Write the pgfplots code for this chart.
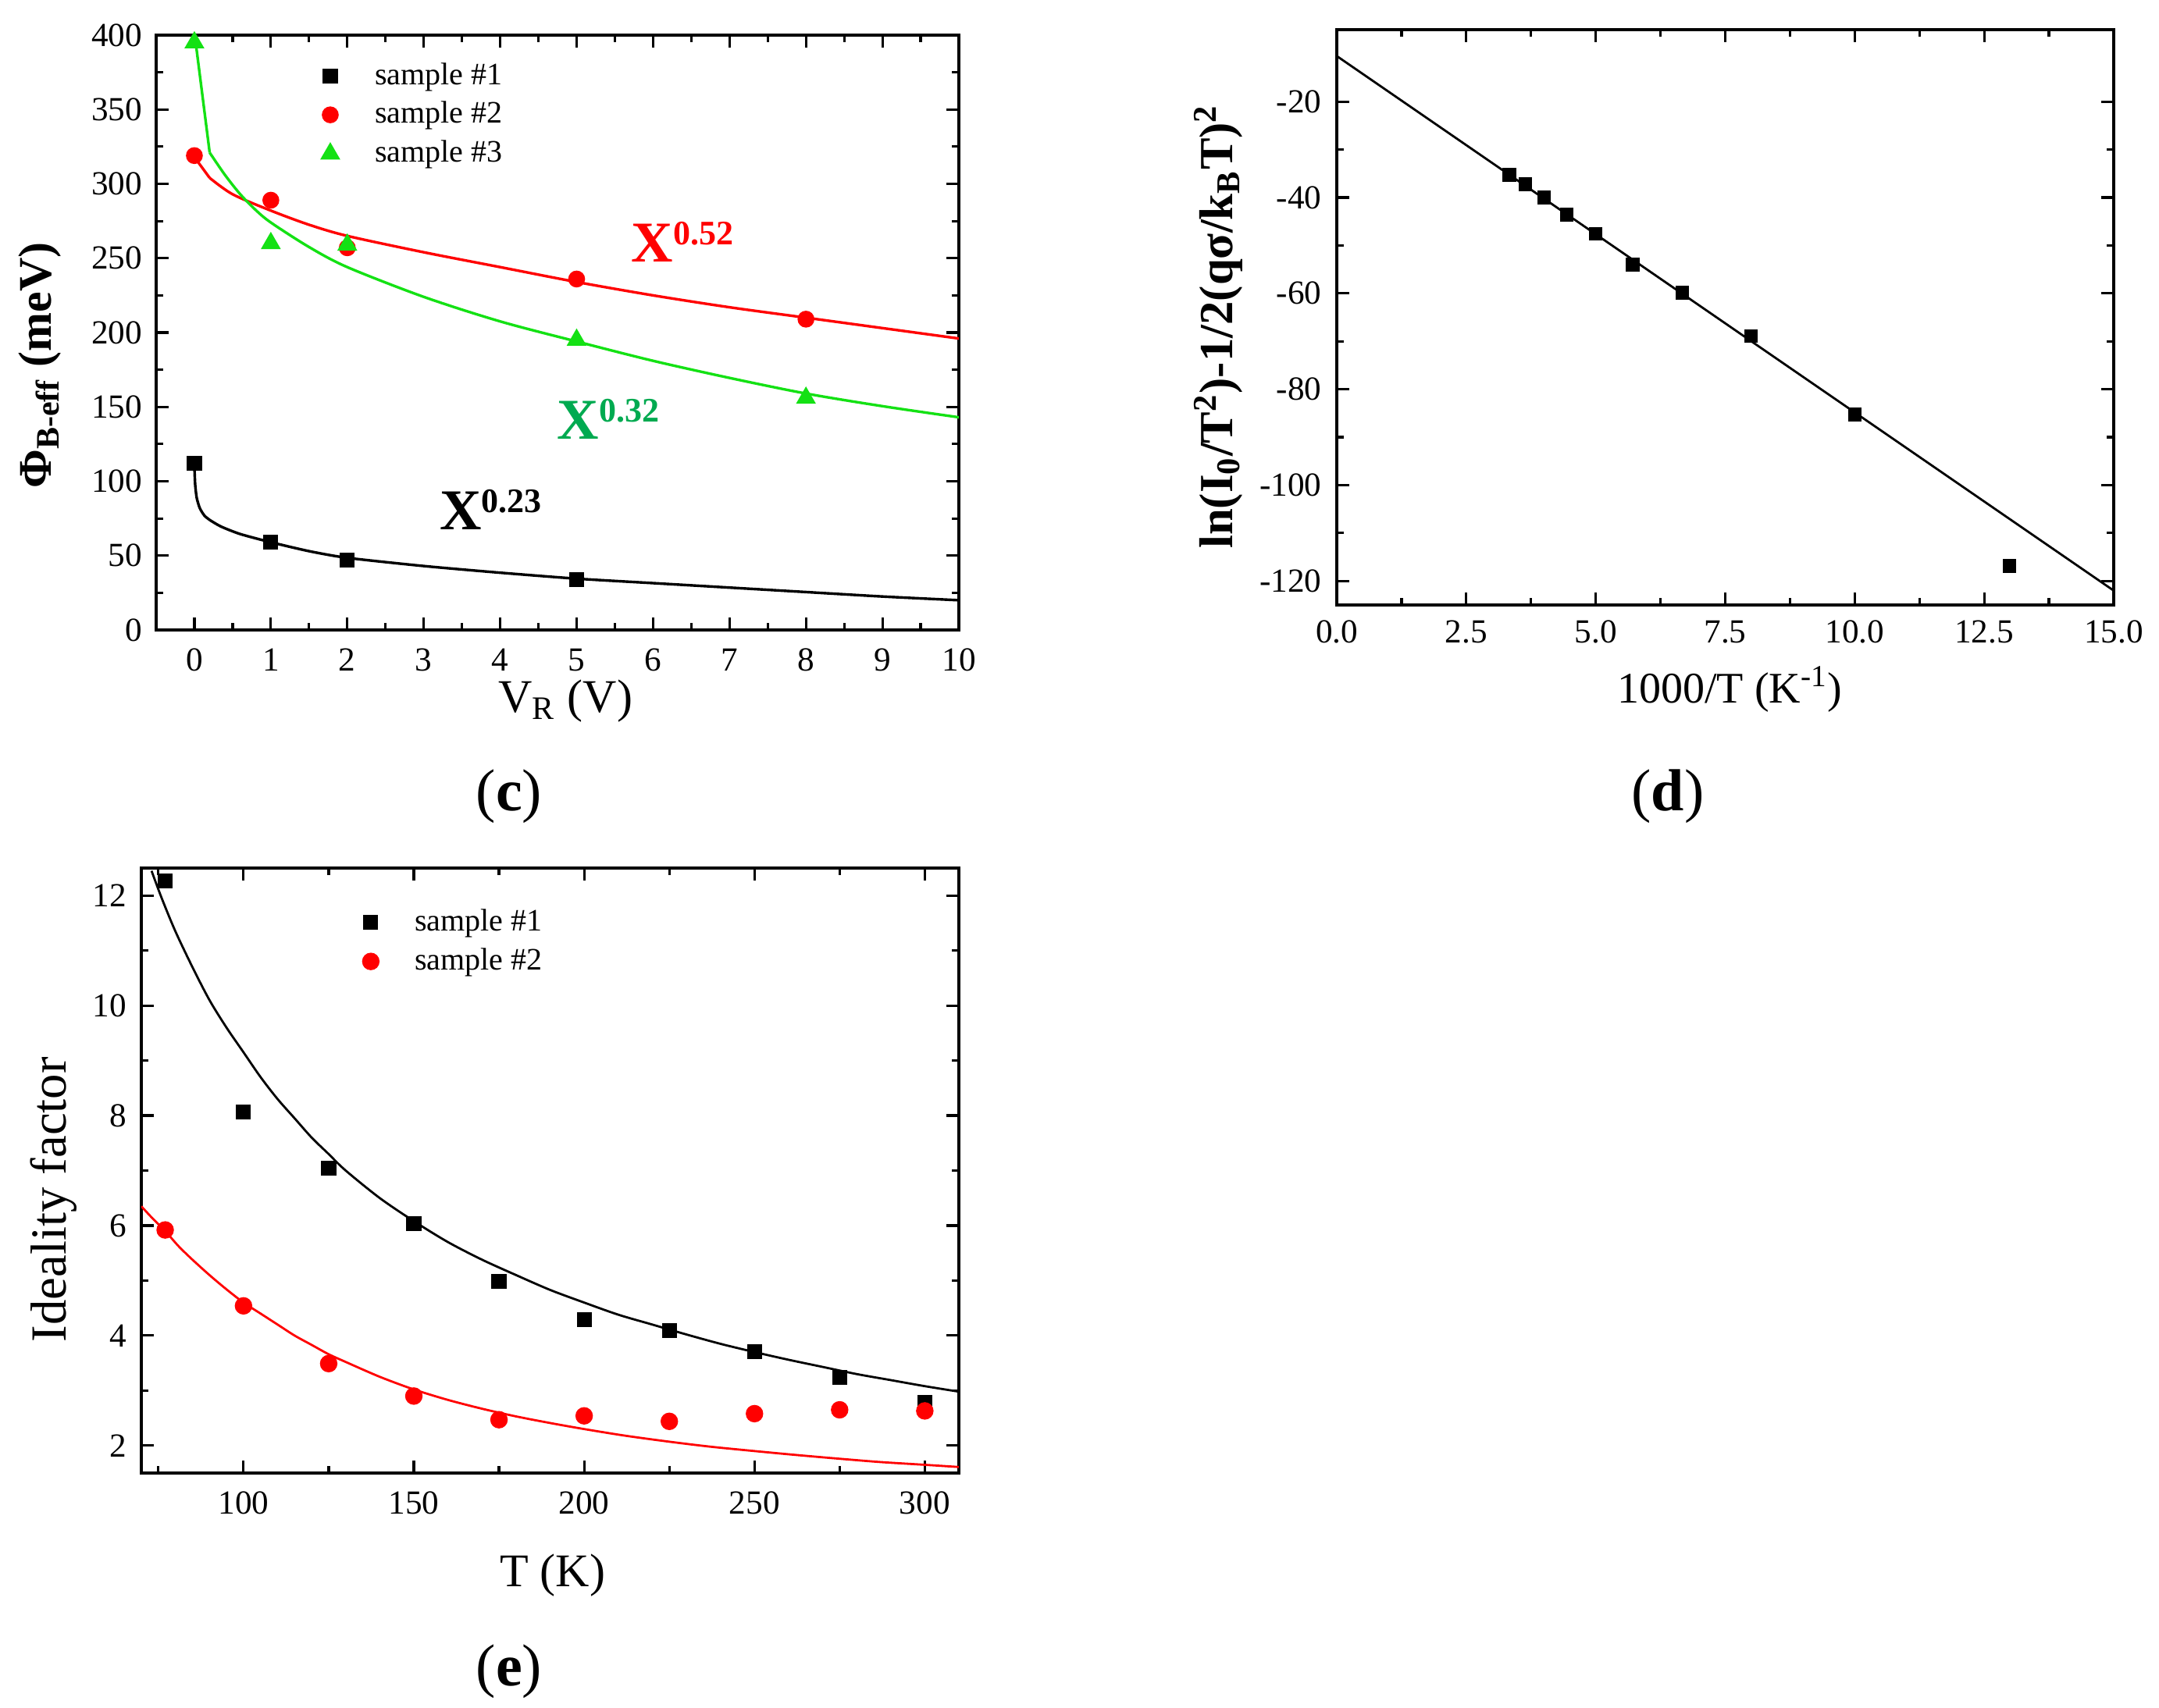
\documentclass[border=0pt]{standalone}
\usepackage{pgfplots}
\pgfplotsset{compat=1.18}
\usepackage{fontspec}
\setmainfont{Liberation Serif}
\definecolor{mygreen}{RGB}{20,225,20}
\definecolor{txtgreen}{RGB}{0,170,80}
\newcommand{\xpow}[1]{X\raisebox{5.5pt}{\fontsize{11}{11}\selectfont #1}}
\pgfplotsset{
  myax/.style={
    scale only axis, anchor=north west,
    tick align=inside,
    axis line style={line width=0.85pt},
    every tick/.style={black, line width=0.8pt},
    major tick length=4pt, minor tick length=2.3pt,
    tick label style={font=\fontsize{10.8}{12}\selectfont},
    /pgf/number format/assume math mode=true,
    legend style={draw=none, fill=none, font=\fontsize{10}{12}\selectfont, row sep=0pt, column sep=9.5pt, inner sep=0pt},
    legend cell align=left,
  },
}
\begin{document}
\begin{tikzpicture}
\useasboundingbox (0,0) rectangle (691.25pt,-546.75pt);
% ---------------- (c)
\begin{axis}[myax, at={(50pt,-11.25pt)}, width=257pt, height=190.5pt,
  xmin=-0.5, xmax=10, ymin=0, ymax=400,
  xtick={0,1,...,10}, minor x tick num=1,
  ytick={0,50,...,400}, minor y tick num=1,
  xticklabel style={yshift=-2.5pt}, yticklabel style={xshift=-1pt},
  xlabel={V\textsubscript{R} (V)},
  xlabel style={font=\fontsize{15}{18}\selectfont, at={(axis description cs:0.51,-0.139)}, anchor=base},
  ylabel={\bfseries Φ\textsubscript{B-eff} (meV)},
  ylabel style={font=\fontsize{15}{18}\selectfont, at={(axis description cs:-0.145,0.445)}, anchor=center, rotate=0},
  legend style={at={(axis description cs:0.205,0.965)}, anchor=north west},
]
\addplot[only marks, mark=square*, mark size=2.2pt, black] coordinates {(0,112) (1,59) (2,47) (5,34)};
\addlegendentry{sample \#1}
\addplot[only marks, mark=*, mark size=2.5pt, red] coordinates {(0,319) (1,289) (2,257) (5,236) (8,209)};
\addlegendentry{sample \#2}
\addplot[only marks, mark=triangle*, mark size=3.3pt, mygreen] coordinates {(0,395) (1,260) (2,259) (5,195) (8,156)};
\addlegendentry{sample \#3}
\addplot[black, line width=0.85pt, forget plot, smooth, tension=0.4] coordinates {(0,110) (0.01,98) (0.03,89) (0.07,82) (0.13,77) (0.2,74) (0.35,69.5) (0.6,64.5) (1,59) (1.5,53) (2,48.5) (3,43) (4,38.5) (5,34.5) (6,31.5) (7,28.5) (8,25.5) (9,22.5) (10,20)};
\addplot[red, line width=0.85pt, forget plot] coordinates {(0,318) (0.2,304)};
\addplot[red, line width=0.85pt, forget plot, smooth] coordinates {(0.2,304) (0.5,293) (1,282) (1.5,272.5) (2,265) (3,254) (4,244) (5,234) (6,225) (7,217) (8,210) (9,203) (10,196)};
\addplot[mygreen, line width=0.85pt, forget plot] coordinates {(0,402) (0.2,321)};
\addplot[mygreen, line width=0.85pt, forget plot, smooth] coordinates {(0.2,321) (0.4,306) (0.6,293) (0.8,282.5) (1,274) (1.5,257.5) (2,244) (3,224) (4,207.5) (5,194) (6,181) (7,169.5) (8,159) (9,150.5) (10,143)};
\node[anchor=base west, inner sep=0pt, red, font=\fontsize{18.5}{20}\selectfont\bfseries] at (axis cs:5.71,247.5) {\xpow{0.52}};
\node[anchor=base west, inner sep=0pt, txtgreen, font=\fontsize{18.5}{20}\selectfont\bfseries] at (axis cs:4.74,128.6) {\xpow{0.32}};
\node[anchor=base west, inner sep=0pt, black, font=\fontsize{18.5}{20}\selectfont\bfseries] at (axis cs:3.2,67.2) {\xpow{0.23}};
\end{axis}
% ---------------- (d)
\begin{axis}[myax, at={(428pt,-9.5pt)}, width=248.75pt, height=184.25pt,
  xmin=0, xmax=15, ymin=-125, ymax=-5,
  xtick={0,2.5,...,15}, minor x tick num=1,
  ytick={-120,-100,...,-20}, minor y tick num=1,
  xticklabel style={yshift=-1.4pt, /pgf/number format/.cd, fixed, fixed zerofill, precision=1},
  yticklabel style={xshift=-1.4pt},
  xlabel={1000/T (K\textsuperscript{-1})},
  xlabel style={font=\fontsize{14}{17}\selectfont, at={(axis description cs:0.506,-0.17)}, anchor=base},
  ylabel={\bfseries ln(I\textsubscript{0}/T\textsuperscript{2})-1/2(qσ/k\textsubscript{B}T)\textsuperscript{2}},
  ylabel style={font=\fontsize{15.2}{18}\selectfont, at={(axis description cs:-0.152,0.484)}, anchor=center, rotate=0},
]
\addplot[black, line width=0.7pt] coordinates {(0,-10.5) (15,-122)};
\addplot[only marks, mark=square*, mark size=2pt, black] coordinates {(3.33,-35.3) (3.64,-37.2) (4.0,-40) (4.44,-43.6) (5.0,-47.6) (5.71,-54) (6.67,-59.9) (8.0,-68.9) (10.0,-85.3) (12.99,-116.9)};
\end{axis}
% ---------------- (e)
\begin{axis}[myax, at={(45.25pt,-278pt)}, width=261.75pt, height=193.75pt,
  xmin=70, xmax=310, ymin=1.5, ymax=12.5,
  xtick={100,150,...,300}, minor xtick={75,125,...,325},
  ytick={2,4,...,12}, minor ytick={3,5,...,11},
  xticklabel style={yshift=-2.5pt}, yticklabel style={xshift=-1.2pt},
  xlabel={T (K)},
  xlabel style={font=\fontsize{15}{18}\selectfont, at={(axis description cs:0.503,-0.188)}, anchor=base},
  ylabel={Ideality factor},
  ylabel style={font=\fontsize{16.2}{19}\selectfont, at={(axis description cs:-0.107,0.452)}, anchor=center, rotate=0},
  legend style={at={(axis description cs:0.27,0.943)}, anchor=north west},
]
\addplot[only marks, mark=square*, mark size=2.2pt, black] coordinates {(77,12.27) (100,8.06) (125,7.04) (150,6.03) (175,4.98) (200,4.29) (225,4.09) (250,3.71) (275,3.24) (300,2.78)};
\addlegendentry{sample \#1}
\addplot[only marks, mark=*, mark size=2.6pt, red] coordinates {(77,5.92) (100,4.54) (125,3.49) (150,2.9) (175,2.47) (200,2.54) (225,2.44) (250,2.58) (275,2.65) (300,2.63)};
\addlegendentry{sample \#2}
\addplot[black, line width=0.7pt, forget plot, smooth] coordinates {(73,12.45) (76,11.95) (80,11.35) (85,10.7) (90,10.1) (95,9.6) (100,9.15) (105,8.7) (110,8.3) (115,7.95) (120,7.6) (125,7.3) (130,7.0) (140,6.5) (150,6.08) (160,5.7) (170,5.38) (180,5.1) (190,4.83) (200,4.6) (210,4.38) (220,4.2) (230,4.02) (240,3.85) (250,3.7) (260,3.56) (270,3.43) (280,3.3) (290,3.19) (300,3.08) (310,2.98)};
\addplot[red, line width=0.7pt, forget plot, smooth] coordinates {(70,6.35) (73,6.15) (77,5.9) (81,5.62) (85,5.38) (90,5.1) (95,4.84) (100,4.6) (105,4.4) (110,4.2) (115,4.0) (120,3.83) (125,3.66) (130,3.52) (140,3.25) (150,3.02) (160,2.83) (170,2.67) (180,2.53) (190,2.41) (200,2.3) (212,2.18) (225,2.07) (237,1.98) (250,1.9) (262,1.83) (275,1.76) (287,1.7) (300,1.65) (310,1.61)};
\end{axis}
% captions
\node[font=\fontsize{19}{22}\selectfont] at (163pt,-255pt) {(\textbf{c})};
\node[font=\fontsize{19}{22}\selectfont] at (534pt,-255pt) {(\textbf{d})};
\node[font=\fontsize{19}{22}\selectfont] at (163pt,-535.25pt) {(\textbf{e})};
\end{tikzpicture}
\end{document}
